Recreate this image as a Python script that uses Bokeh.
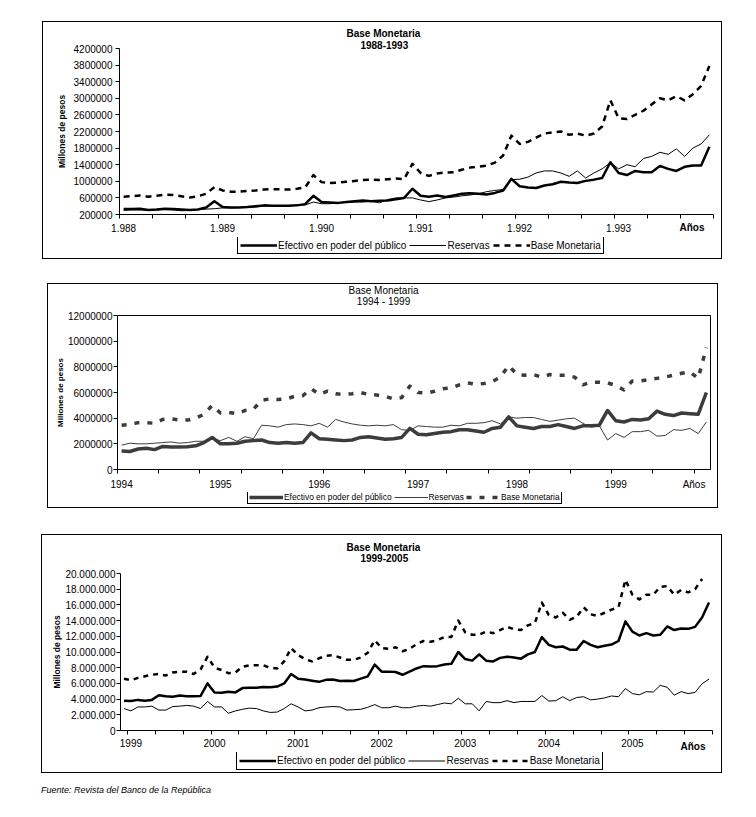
from bokeh.plotting import figure
from bokeh.models import Range1d, FixedTicker, Legend, LegendItem, Title, Div, Spacer
from bokeh.layouts import column
from bokeh.embed import file_html
from bokeh.resources import INLINE

FONT = "Liberation Sans"

# ---------------- Panel 1: 1988-1993 (monthly, Jan 1988 - Dec 1993) ----------------
years_1 = ["1.988", "1.989", "1.990", "1.991", "1.992", "1.993"]
efectivo_1 = [330000, 330000, 340000, 310000, 320000, 340000, 330000, 320000, 310000, 320000, 370000, 520000,
              380000, 370000, 370000, 380000, 400000, 420000, 410000, 410000, 410000, 420000, 450000, 650000,
              500000, 490000, 480000, 500000, 520000, 540000, 520000, 530000, 540000, 570000, 600000, 820000,
              650000, 630000, 660000, 620000, 660000, 700000, 710000, 700000, 680000, 720000, 780000, 1060000,
              880000, 850000, 840000, 900000, 930000, 990000, 970000, 960000, 1010000, 1040000, 1080000, 1460000,
              1200000, 1150000, 1250000, 1220000, 1220000, 1370000, 1300000, 1250000, 1350000, 1380000, 1380000, 1830000]
reservas_1 = [300000, 310000, 310000, 300000, 310000, 320000, 310000, 290000, 300000, 320000, 330000, 340000,
              360000, 360000, 370000, 370000, 380000, 400000, 400000, 400000, 410000, 420000, 430000, 500000,
              460000, 460000, 480000, 490000, 500000, 500000, 520000, 480000, 560000, 600000, 600000, 600000,
              550000, 510000, 550000, 600000, 620000, 650000, 670000, 700000, 750000, 780000, 800000, 1040000,
              1050000, 1100000, 1200000, 1250000, 1250000, 1200000, 1120000, 1250000, 1080000, 1200000, 1300000, 1450000,
              1300000, 1400000, 1350000, 1550000, 1600000, 1700000, 1650000, 1780000, 1600000, 1800000, 1900000, 2120000]
base_1 = [630000, 640000, 660000, 630000, 650000, 680000, 670000, 640000, 610000, 640000, 700000, 860000,
          780000, 750000, 750000, 770000, 780000, 800000, 810000, 810000, 800000, 820000, 850000, 1150000,
          980000, 960000, 970000, 990000, 1010000, 1030000, 1040000, 1030000, 1050000, 1070000, 1050000, 1420000,
          1200000, 1130000, 1190000, 1210000, 1220000, 1280000, 1330000, 1350000, 1380000, 1450000, 1620000, 2100000,
          1900000, 1950000, 2050000, 2150000, 2180000, 2200000, 2120000, 2150000, 2100000, 2150000, 2320000, 2950000,
          2520000, 2500000, 2600000, 2700000, 2850000, 3000000, 2950000, 3050000, 2950000, 3100000, 3300000, 3780000]
yticks_1 = [200000, 600000, 1000000, 1400000, 1800000, 2200000, 2600000, 3000000, 3400000, 3800000, 4200000]
ylabels_1 = ["200000", "600000", "1000000", "1400000", "1800000", "2200000", "2600000", "3000000",
             "3400000", "3800000", "4200000"]

# ---------------- Panel 2: 1994-1999 (monthly, Jan 1994 - Dec 1999) ----------------
years_2 = ["1994", "1995", "1996", "1997", "1998", "1999"]
efectivo_2 = [1450000, 1400000, 1600000, 1650000, 1550000, 1800000, 1750000, 1750000, 1780000, 1850000, 2100000, 2500000,
              2000000, 2000000, 2050000, 2200000, 2250000, 2300000, 2100000, 2050000, 2100000, 2050000, 2100000, 2850000,
              2400000, 2350000, 2300000, 2250000, 2300000, 2500000, 2550000, 2450000, 2350000, 2400000, 2500000, 3200000,
              2750000, 2700000, 2800000, 2900000, 2950000, 3100000, 3100000, 3000000, 2900000, 3200000, 3300000, 4100000,
              3400000, 3300000, 3200000, 3350000, 3350000, 3500000, 3350000, 3200000, 3400000, 3400000, 3450000, 4600000,
              3800000, 3700000, 3900000, 3850000, 3950000, 4550000, 4300000, 4200000, 4400000, 4350000, 4300000, 6000000]
reservas_2 = [1900000, 2050000, 2000000, 2000000, 2050000, 2100000, 2150000, 2050000, 2100000, 2200000, 2200000, 2400000,
              2250000, 2500000, 2200000, 2550000, 2400000, 3450000, 3400000, 3300000, 3500000, 3550000, 3500000, 3400000,
              3600000, 3300000, 3900000, 3700000, 3550000, 3450000, 3400000, 3450000, 3400000, 3500000, 3100000, 3050000,
              3400000, 3350000, 3300000, 3300000, 3450000, 3400000, 3600000, 3600000, 3650000, 3800000, 3550000, 4100000,
              4000000, 4050000, 4050000, 3900000, 3750000, 3850000, 3950000, 4000000, 3600000, 3300000, 3400000, 2300000,
              2800000, 2500000, 2950000, 2950000, 3050000, 2600000, 2650000, 3100000, 3050000, 3200000, 2800000, 3700000]
base_2 = [3450000, 3500000, 3650000, 3650000, 3600000, 3900000, 3950000, 3850000, 3850000, 4000000, 4300000, 5000000,
          4400000, 4450000, 4350000, 4600000, 4700000, 5400000, 5500000, 5450000, 5500000, 5700000, 5750000, 6300000,
          5850000, 6100000, 5900000, 5850000, 5900000, 6000000, 5850000, 5800000, 5700000, 5500000, 5600000, 6500000,
          6000000, 5950000, 6100000, 6300000, 6350000, 6600000, 6750000, 6650000, 6700000, 6850000, 7200000, 8100000,
          7400000, 7350000, 7400000, 7200000, 7400000, 7350000, 7350000, 7200000, 6600000, 6800000, 6800000, 6750000,
          6550000, 6200000, 6900000, 6900000, 7000000, 7100000, 7200000, 7350000, 7500000, 7600000, 7100000, 9500000]
yticks_2 = [0, 2000000, 4000000, 6000000, 8000000, 10000000, 12000000]
ylabels_2 = ["0", "2000000", "4000000", "6000000", "8000000", "10000000", "12000000"]

# ---------------- Panel 3: 1999-2005 (monthly, Dec 1998 - Dec 2005) ----------------
years_3 = ["1999", "2000", "2001", "2002", "2003", "2004", "2005"]
efectivo_3 = [3800000, 3750000, 3900000, 3800000, 3900000, 4500000, 4350000, 4300000, 4450000, 4350000, 4350000, 4400000, 6000000,
              4850000, 4800000, 4950000, 4850000, 5400000, 5450000, 5450000, 5550000, 5500000, 5600000, 6000000, 7200000,
              6600000, 6500000, 6350000, 6200000, 6450000, 6500000, 6300000, 6350000, 6300000, 6600000, 6900000, 8400000,
              7500000, 7500000, 7450000, 7100000, 7500000, 7900000, 8200000, 8150000, 8200000, 8400000, 8500000, 10000000,
              9100000, 8900000, 9700000, 8900000, 8800000, 9250000, 9400000, 9300000, 9150000, 9700000, 10000000, 11900000,
              10900000, 10600000, 10700000, 10300000, 10300000, 11400000, 10900000, 10600000, 10800000, 10950000, 11400000, 13900000,
              12600000, 12100000, 12400000, 12100000, 12200000, 13250000, 12800000, 13000000, 12950000, 13200000, 14400000, 16300000]
reservas_3 = [2800000, 2500000, 3000000, 3000000, 3100000, 2600000, 2600000, 3050000, 3100000, 3200000, 3100000, 2800000, 3700000,
              3000000, 3000000, 2200000, 2500000, 2700000, 2850000, 2800000, 2500000, 2300000, 2350000, 2800000, 3400000,
              3000000, 2500000, 2600000, 2900000, 3000000, 3050000, 3000000, 2600000, 2650000, 2700000, 2950000, 3300000,
              2900000, 2900000, 3100000, 2900000, 2900000, 3100000, 3200000, 3100000, 3300000, 3500000, 3400000, 4100000,
              3400000, 3400000, 2500000, 3700000, 3550000, 3550000, 3800000, 3550000, 3700000, 3700000, 3700000, 4450000,
              3750000, 3800000, 4300000, 3800000, 4200000, 4300000, 3900000, 4000000, 4150000, 4400000, 4300000, 5350000,
              4700000, 4550000, 4950000, 4900000, 5750000, 5500000, 4500000, 4950000, 4700000, 4850000, 5950000, 6550000]
base_3 = [6600000, 6400000, 6700000, 6900000, 7100000, 7200000, 7000000, 7400000, 7500000, 7500000, 7200000, 7800000, 9400000,
          8000000, 7700000, 7300000, 7400000, 8100000, 8300000, 8300000, 8300000, 8000000, 7900000, 8800000, 10500000,
          9600000, 9100000, 8800000, 9200000, 9500000, 9600000, 9300000, 9000000, 9000000, 9300000, 9900000, 11500000,
          10500000, 10400000, 10600000, 10100000, 10400000, 11000000, 11400000, 11300000, 11500000, 11900000, 11900000, 14000000,
          12500000, 12200000, 12200000, 12600000, 12400000, 12800000, 13200000, 12900000, 12800000, 13400000, 13700000, 16300000,
          14700000, 14400000, 15000000, 14100000, 14500000, 15700000, 14800000, 14600000, 15000000, 15400000, 15700000, 19200000,
          17300000, 16700000, 17300000, 17300000, 18300000, 18400000, 17300000, 17900000, 17600000, 18000000, 19300000]
yticks_3 = [0, 2000000, 4000000, 6000000, 8000000, 10000000, 12000000, 14000000, 16000000, 18000000, 20000000]
ylabels_3 = ["0", "2.000.000", "4.000.000", "6.000.000", "8.000.000", "10.000.000", "12.000.000",
             "14.000.000", "16.000.000", "18.000.000", "20.000.000"]

series_names = ["Efectivo en poder del público", "Reservas", "Base Monetaria"]
title_main = "Base Monetaria"
title_periods = ["1988-1993", "1994 - 1999", "1999-2005"]
y_title = "Millones de pesos"
x_end_label = "Años"
source_text = "Fuente: Revista del Banco de la República"

NB = "\u00a0"


def make_chart(width, height, borders, x_end, y_rng, yticks, ylabels, label_pos, labels, marks,
               title, x_standoff, y_standoff, ylab_size, ylab_standoff):
    p = figure(width=width, height=height, x_range=Range1d(0, x_end), y_range=Range1d(*y_rng),
               output_backend="svg", toolbar_location=None, title=title,
               min_border_left=borders[0], min_border_right=borders[1],
               min_border_top=borders[2], min_border_bottom=borders[3])
    p.xgrid.visible = False
    p.ygrid.visible = False
    p.outline_line_color = None
    p.background_fill_color = "white"
    p.border_fill_color = "white"
    xa = p.xaxis[0]
    ya = p.yaxis[0]
    xa.ticker = FixedTicker(ticks=label_pos, minor_ticks=marks)
    xa.major_label_overrides = {pos: lab for pos, lab in zip(label_pos, labels)}
    xa.major_tick_in = 0
    xa.major_tick_out = 0
    xa.minor_tick_in = 0
    xa.minor_tick_out = 4
    xa.minor_tick_line_color = "black"
    xa.axis_line_color = "black"
    xa.major_label_standoff = x_standoff
    xa.major_label_text_font = FONT
    xa.major_label_text_font_size = "10px"
    xa.major_label_text_color = "black"
    ya.ticker = FixedTicker(ticks=yticks, minor_ticks=[])
    ya.major_label_overrides = {t: l for t, l in zip(yticks, ylabels)}
    ya.major_tick_in = 0
    ya.major_tick_out = 4
    ya.major_tick_line_color = "black"
    ya.minor_tick_out = 0
    ya.minor_tick_in = 0
    ya.axis_line_color = "black"
    ya.major_label_standoff = y_standoff
    ya.major_label_text_font = FONT
    ya.major_label_text_font_size = "10px"
    ya.major_label_text_color = "black"
    ya.axis_label = y_title
    ya.axis_label_text_font = FONT
    ya.axis_label_text_font_size = ylab_size
    ya.axis_label_text_font_style = "bold"
    ya.axis_label_text_color = "black"
    ya.axis_label_standoff = ylab_standoff
    return p


def add_anos(p, offset, standoff):
    # bold "Años" at the right end of the x-axis label row
    p.add_layout(Title(text=x_end_label, align="right", offset=offset, standoff=standoff,
                       vertical_align="top", text_font=FONT, text_font_size="10px",
                       text_font_style="bold", text_color="black"), "below")


def add_series(p, data, offset, color, widths, dashes):
    for vals, w, d in zip(data, widths, dashes):
        xs = [i + offset for i in range(len(vals))]
        p.line(xs, vals, line_color=color, line_width=w, line_dash=d, line_join="round")


def make_legend(width, height, data, color, widths, dashes, loc, font_size, glyph_w, glyph_h, padding, spacing):
    # Legend strip under the chart; its series lie outside this strip's y range, only the legend shows.
    lf = figure(width=width, height=height, x_range=Range1d(0, 100), y_range=Range1d(-2, -1),
                output_backend="svg", toolbar_location=None, x_axis_location=None, y_axis_location=None,
                min_border=0, min_border_left=0, min_border_right=0, min_border_top=0, min_border_bottom=0)
    lf.xgrid.visible = False
    lf.ygrid.visible = False
    lf.outline_line_color = None
    lf.background_fill_color = "white"
    lf.border_fill_color = "white"
    rs = []
    for vals, w, d in zip(data, widths, dashes):
        xs = [i + 0.5 for i in range(len(vals))]
        rs.append(lf.line(xs, vals, line_color=color, line_width=w, line_dash=d))
    lg = Legend(items=[LegendItem(label=n, renderers=[r]) for n, r in zip(series_names, rs)],
                orientation="horizontal", location=loc, margin=0, padding=padding,
                spacing=spacing, glyph_width=glyph_w, glyph_height=glyph_h, label_standoff=1,
                label_height=glyph_h, label_width=10, label_text_font=FONT,
                label_text_font_size=font_size, label_text_color="black",
                border_line_color="black", border_line_width=1, border_line_alpha=1,
                background_fill_color="white", background_fill_alpha=1)
    lf.add_layout(lg)
    return lf


# ---------- Panel 1 ----------
d1 = [efectivo_1, reservas_1, base_1]
w1 = [2.5, 1, 2.5]
s1 = ["solid", "solid", "6 5"]
t1 = Title(text=title_main + "\n" + NB * 5 + title_periods[0], align="left", offset=227, standoff=-6,
           text_font=FONT, text_font_size="10px", text_font_style="bold", text_line_height=1.1,
           text_color="black")
p1 = make_chart(678, 209, (76, 8, 20, 23), 72, (200000, 4200000), yticks_1, ylabels_1,
                [12 * k + 0.5 for k in range(len(years_1))], years_1,
                [4 * k for k in range(19)], t1, 5, 3, "8.5px", 4)
add_series(p1, d1, 0.5, "black", w1, s1)
add_anos(p1, 9, -25)
l1 = make_legend(678, 21, d1, "black", w1, s1, (118, 4), "10px", 37, 12, 2, 3)
c1 = column(Spacer(width=678, height=6), p1, l1, spacing=0, margin=(22, 0, 0, 43),
            styles={"outline": "1px solid black"})

# ---------- Panel 2 ----------
d2 = [efectivo_2, reservas_2, base_2]
w2 = [3.5, 1, 3.5]
s2 = ["solid", "solid", "5 8"]
t2 = Title(text=title_main + "\n" + NB * 3 + title_periods[1] + "\n" + NB, align="left", offset=231, standoff=-5,
           text_font=FONT, text_font_size="10px", text_font_style="normal", text_line_height=1.0,
           text_color="black")
p2 = make_chart(669, 207, (69, 7, 30, 23), 72, (0, 12000000), yticks_2, ylabels_2,
                [12 * k + 0.5 for k in range(len(years_2))] + [70], years_2 + [x_end_label],
                [5 * k for k in range(15)], t2, 5, 1, "8px", 0)
p2.outline_line_color = "black"
p2.outline_line_width = 1
add_series(p2, d2, 0.5, "#3c3c3c", w2, s2)
l2 = make_legend(669, 15, d2, "#3c3c3c", w2, s2, (130, 3), "8.4px", 34, 10, 1, 2)
c2 = column(Spacer(width=669, height=1), p2, l2, spacing=0, margin=(26, 0, 0, 48),
            styles={"outline": "1px solid black"})

# ---------- Panel 3 ----------
d3 = [efectivo_3, reservas_3, base_3]
w3 = [2.5, 1, 2.5]
s3 = ["solid", "solid", "5 5"]
t3 = Title(text=title_main + "\n" + NB * 5 + title_periods[2] + "\n" + NB, align="left", offset=226, standoff=-3,
           text_font=FONT, text_font_size="10px", text_font_style="bold", text_line_height=1.0,
           text_color="black")
p3 = make_chart(679, 211, (78, 9, 32, 22), 85, (0, 20000000), yticks_3, ylabels_3,
                [12 * k + 1.5 for k in range(len(years_3))], years_3,
                [1 + 4 * k for k in range(22)], t3, 4, 1, "8.5px", 0)
add_series(p3, d3, 0.5, "black", w3, s3)
add_anos(p3, 7, -17)
l3 = make_legend(679, 20, d3, "black", w3, s3, (116, 2), "10px", 37, 13, 2, 3)
c3 = column(Spacer(width=679, height=6), p3, l3, spacing=0, margin=(28, 0, 0, 42),
            styles={"outline": "1px solid black"})

src = Div(text=source_text, margin=(12, 0, 0, 41),
          styles={"font-family": FONT, "font-size": "9px", "font-style": "italic", "color": "black"})

layout = column(c1, c2, c3, src, spacing=0)
open("out.html", "w").write(file_html(layout, INLINE))
